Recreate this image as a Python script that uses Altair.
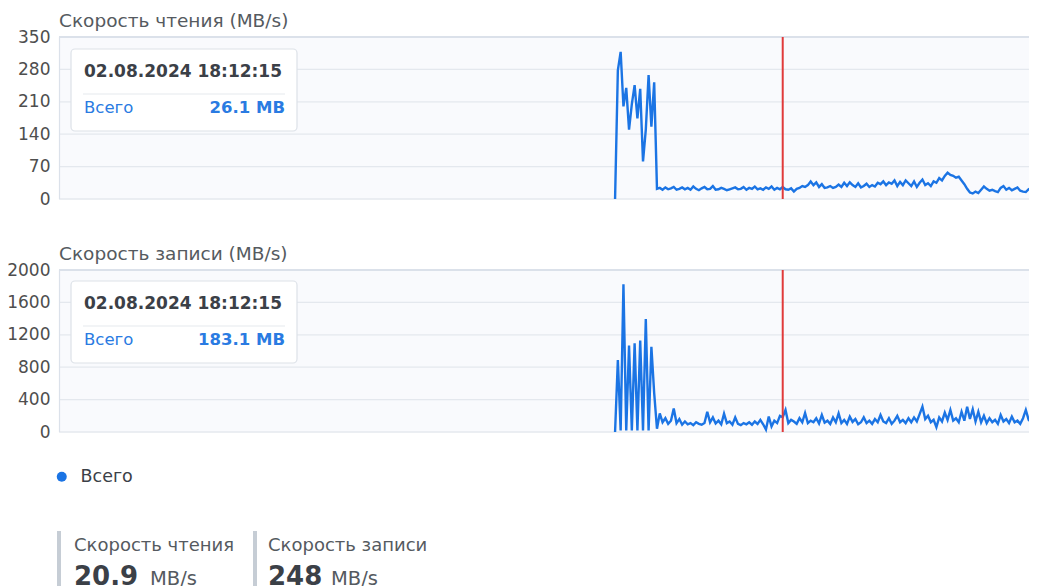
import altair as alt
import pandas as pd

# ---------------- data ----------------
series_name = "Всего"
start_index = 199          # first sample with data
cursor_index = 259         # hovered sample (02.08.2024 18:12:15)
x_max = 350

read_values = [
    0, 278, 318, 200, 240, 150, 205, 246, 174, 238, 81, 150, 268, 156, 252, 22,
    24, 20, 25, 21, 23, 26, 20, 22, 25, 21, 24, 20, 27, 22, 19, 23, 26, 21, 22, 28,
    20, 21, 24, 22, 19, 21, 23, 25, 21, 22, 26, 20, 24, 22, 27, 21, 23, 20, 25, 22,
    27, 20, 24, 21,
    26, 21, 20, 23, 16, 22, 24, 28, 26, 30, 38, 30, 36, 26, 32, 24, 25, 28, 24, 26,
    31, 26, 35, 28, 36, 30, 26, 34, 25, 28, 33, 26, 30, 27, 35, 32, 38, 30, 36, 33,
    40, 28, 37, 30, 40, 34, 28, 38, 26, 35, 42, 30, 34, 28, 38, 35, 45, 40, 50, 57,
    52, 50, 46, 48, 40, 32, 22, 14, 12, 16, 13, 20, 27, 22, 18, 20, 17, 15, 24, 28,
    20, 24, 19, 22, 25, 18, 16, 15, 21, 24, 19, 22,
]

write_values = [
    0, 889, 20, 1823, 20, 1066, 20, 1095, 20, 1128, 20, 1395, 20, 1053, 480, 40,
    230, 120, 170, 100, 140, 290, 110, 160, 90, 130, 95, 110, 85, 120, 100, 90,
    110, 250, 120, 180, 105, 140, 95, 225, 110, 130, 90, 180, 100, 85, 110, 95,
    120, 90, 130, 100, 150, 95, 30, 190, 70, 140, 110, 200,
    183, 272, 110, 150, 130, 100, 170, 120, 235, 110, 140, 120, 170, 105, 210, 115,
    140, 100, 180, 120, 230, 110, 150, 100, 190, 125, 160, 95, 120, 180, 110, 140,
    100, 160, 120, 210, 130, 110, 170, 100, 140, 200, 120, 150, 110, 170, 120, 180,
    130, 220, 313, 160, 200, 120, 150, 60, 180, 130, 240, 150, 272, 140, 170, 120,
    250, 140, 313, 160, 280, 130, 250, 120, 200, 110, 170, 120, 150, 100, 210, 130,
    160, 110, 190, 120, 140, 100, 170, 272, 150, 120, 140, 100, 90,
]

read_ticks = [0, 70, 140, 210, 280, 350]
write_ticks = [0, 400, 800, 1200, 1600, 2000]

panel_titles = ["Скорость чтения (MB/s)", "Скорость записи (MB/s)"]
tooltip_time = "02.08.2024 18:12:15"
tooltip_values = ["26.1 MB", "183.1 MB"]
stat_labels = ["Скорость чтения", "Скорость записи"]
stat_values = ["20.9", "248"]
stat_unit = "MB/s"

# ---------------- style ----------------
FONT = "DejaVu Sans"
BLUE = "#1b74e4"
TIP_BLUE = "#2a7be2"
RED = "#e03a3a"
GRID = "#e4e8ee"
BORDER = "#dbe1ea"
PLOT_BG = "#f9fafd"
LABEL = "#4e4e4e"
DARK = "#3b4047"
W = 978
H = 549

read_df = pd.DataFrame({"i": list(range(start_index, start_index + len(read_values))),
                        "v": read_values, "s": series_name})
write_df = pd.DataFrame({"i": list(range(start_index, start_index + len(write_values))),
                         "v": write_values, "s": series_name})
one = pd.DataFrame({"a": [0]})

x_enc = alt.X("i:Q", scale=alt.Scale(domain=[0, x_max], nice=False, zero=False), axis=None)

legend = alt.Legend(orient="none", legendX=-6, legendY=431, title=None, padding=0,
                    symbolType="circle", symbolSize=100, symbolFillColor=BLUE,
                    symbolStrokeWidth=0, labelFont=FONT, labelFontSize=17.5,
                    labelColor=DARK, labelOffset=10)
color_enc = alt.Color("s:N", scale=alt.Scale(range=[BLUE]), legend=legend)


def panel(df, ticks, y_range):
    top = ticks[-1]
    yscale = alt.Scale(domain=[0, top], range=y_range, nice=False, zero=True)
    yaxis = alt.Axis(values=ticks, title=None, domain=False, ticks=False, grid=False,
                     labelPadding=9, labelFont=FONT, labelFontSize=17, format="d",
                     labelColor=LABEL, orient="left", labelOverlap=False)
    bg = alt.Chart(one).mark_rect(fill=PLOT_BG).encode(
        x=alt.value(0), x2=alt.value(W),
        y=alt.YDatum(0, scale=yscale, axis=yaxis), y2=alt.Y2Datum(top))
    grid = alt.Chart(pd.DataFrame({"t": ticks})).mark_rule(color=GRID, strokeWidth=1.3).encode(
        x=alt.value(0), x2=alt.value(W), y=alt.Y("t:Q", scale=yscale, axis=yaxis))
    left = alt.Chart(one).mark_rule(color=BORDER, strokeWidth=1.2).encode(
        x=alt.value(0.5), y=alt.YDatum(0, scale=yscale, axis=yaxis), y2=alt.Y2Datum(top))
    line = alt.Chart(df).mark_line(strokeWidth=2.4, interpolate="linear").encode(
        x=x_enc,
        y=alt.Y("v:Q", scale=yscale, axis=yaxis),
        color=color_enc)
    topline = alt.Chart(one).mark_rule(color=BORDER, strokeWidth=2.2).encode(
        x=alt.value(0), x2=alt.value(W), y=alt.YDatum(top, scale=yscale, axis=yaxis))
    cursor = alt.Chart(one).mark_rule(color=RED, strokeWidth=2).encode(
        x=alt.XDatum(cursor_index), y=alt.YDatum(0, scale=yscale, axis=yaxis),
        y2=alt.Y2Datum(top))
    return alt.layer(bg, grid, left, topline, line, cursor)


def txt(s, x, y, size=16, color=LABEL, weight="normal", align="left", baseline="middle"):
    return alt.Chart(one).mark_text(text=s, font=FONT, fontSize=size, color=color,
                                    fontWeight=weight, align=align, baseline=baseline).encode(
        x=alt.value(x), y=alt.value(y))


def tooltip(y0, value):
    box = alt.Chart(one).mark_rect(fill="white", stroke="#dde2e8", strokeWidth=1.2,
                                   cornerRadius=4).encode(
        x=alt.value(12), x2=alt.value(238), y=alt.value(y0), y2=alt.value(y0 + 82))
    sep = alt.Chart(one).mark_rule(color="#e6eaee", strokeWidth=1.2).encode(
        x=alt.value(24), x2=alt.value(226), y=alt.value(y0 + 45), y2=alt.value(y0 + 45))
    return alt.layer(
        box, sep,
        txt(tooltip_time, 25, y0 + 23, size=17, color=DARK, weight="bold"),
        txt(series_name, 25, y0 + 59, size=16.5, color=TIP_BLUE),
        txt(value, 226, y0 + 59, size=16.5, color=TIP_BLUE, weight="bold", align="right"),
    )


def stat(x, text_x, label, value, unit_x):
    bar = alt.Chart(one).mark_rect(fill="#c6cdd5").encode(
        x=alt.value(x), x2=alt.value(x + 4), y=alt.value(494), y2=alt.value(560))
    return alt.layer(
        bar,
        txt(label, text_x, 509, size=18, color="#555a60"),
        txt(value, text_x, 548, size=26, color=DARK, weight="bold", baseline="alphabetic"),
        txt(stat_unit, unit_x, 548, size=19.5, color="#555a60", baseline="alphabetic"),
    )


charts = alt.layer(
    panel(read_df, read_ticks, [162, 0]),
    panel(write_df, write_ticks, [395, 233]),
).resolve_scale(y="independent")

chart = alt.layer(
    charts,
    tooltip(12, tooltip_values[0]),
    tooltip(244, tooltip_values[1]),
    txt(panel_titles[0], 0, -16, size=18.5, color="#555a60"),
    txt(panel_titles[1], 0, 217, size=18.5, color="#555a60"),
    stat(-2, 15, stat_labels[0], stat_values[0], 91),
    stat(194, 209, stat_labels[1], stat_values[1], 272),
).properties(
    width=W, height=H,
    padding={"left": 51, "top": 29, "right": -8, "bottom": 0},
    autosize=alt.AutoSizeParams(type="none"),
    background="white",
).configure_view(stroke=None)

chart.save("out.html", embed_options={"renderer": "svg", "actions": False})
